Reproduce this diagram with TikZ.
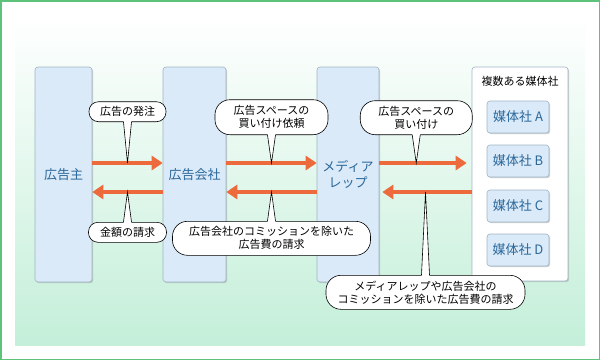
\documentclass[tikz,border=0pt]{standalone}
\usepackage{fontspec}
\setmainfont{Noto Sans CJK JP}
\usetikzlibrary{arrows.meta, calc, positioning, shadows}
\definecolor{colfill}{HTML}{DAEAF8}
\definecolor{colline}{HTML}{9FB4C4}
\definecolor{coltext}{HTML}{2A679A}
\definecolor{flowcol}{HTML}{EC6A3C}
\definecolor{mint}{HTML}{C4EFD9}
\definecolor{framecol}{HTML}{5DC37B}
\newcommand{\calltail}[3]{%
\fill[white] ([xshift=-4pt,yshift=#3]#1) -- (#2) -- ([xshift=4pt,yshift=#3]#1) -- cycle;
\draw[line width=0.6pt] ([xshift=-4pt]#1) -- (#2) -- ([xshift=4pt]#1);}

\begin{document}
\begin{tikzpicture}[x=1pt, y=-1pt,
  col/.style={draw=colline, fill=colfill, rounded corners=3pt, line width=0.6pt,
    text=coltext, font=\fontsize{13}{16}\selectfont, align=center,
    drop shadow={shadow xshift=1.2pt, shadow yshift=-1.2pt, opacity=0.35}},
  sub/.style={col, minimum width=62pt, minimum height=32pt, inner sep=0pt},
  flow/.style={draw=flowcol, line width=4pt, -{Triangle[length=11pt, width=14pt]}},
  callout/.style={draw, fill=white, line width=0.6pt, align=center, inner sep=0pt,
    font=\fontsize{11}{13}\selectfont},
  oneline/.style={callout, minimum height=20pt, rounded corners=9.5pt},
  twoline/.style={callout, minimum height=34pt, rounded corners=15pt}]
\useasboundingbox (0,0) rectangle (600,360);
\fill[white] (0,0) rectangle (600,360);
\draw[framecol, line width=1.5pt] (0.75,0.75) rectangle (599.25,359.25);
\shade[top color=white, middle color=white!60!mint, bottom color=mint] (15,15) rectangle (585,345);

\node[col, minimum width=57pt, minimum height=215pt] (adv) at (63.5,174.5) {広告主};
\node[col, minimum width=63pt, minimum height=215pt] (agency) at (194.5,174.5) {広告会社};
\node[col, minimum width=62pt, minimum height=215pt] (rep) at (348,174.5) {メディア\\レップ};
\node[col, fill=white, minimum width=96pt, minimum height=214pt] (media) at (520,174) {};
\node[below=6pt of media.north, font=\fontsize{11}{13}\selectfont] (mtitle) {複数ある媒体社};
\foreach \c/\y in {A/117, B/161, C/206, D/250}
  \node[sub] (m\c) at (518,\y) {媒体社 \c};

\draw[flow] ([yshift=11.5pt]adv.east) -- coordinate (f1) ([yshift=11.5pt]agency.west);
\draw[flow] ([yshift=11.5pt]agency.east) -- coordinate (f2) ([yshift=11.5pt]rep.west);
\draw[flow, shorten >=5pt] ([yshift=11.5pt]rep.east) -- coordinate[pos=0.4] (f3) ([yshift=11pt]media.west);
\draw[flow] ([yshift=-17.5pt]agency.west) -- coordinate (b1) ([yshift=-17.5pt]adv.east);
\draw[flow] ([yshift=-17.5pt]rep.west) -- coordinate (b2) ([yshift=-17.5pt]agency.east);
\draw[flow, shorten >=3pt] ([yshift=-18pt]media.west) -- coordinate (b3) ([yshift=-17.5pt]rep.east);

\node[oneline, minimum width=77pt, above=41pt of f1] (c1) {広告の発注};
\calltail{c1.south}{f1}{1pt}
\node[twoline, minimum width=113pt, minimum height=35pt, above=28pt of f2] (c2) {広告スペースの\\買い付け依頼};
\calltail{c2.south}{f2}{1pt}
\node[twoline, minimum width=112pt, above=28pt of f3] (c3) {広告スペースの\\買い付け};
\calltail{c3.south}{f3}{1pt}
\node[oneline, minimum width=78pt, below=30pt of b1] (c4) {金額の請求};
\calltail{c4.north}{b1}{-1pt}
\node[twoline, minimum width=198pt, below=29pt of b2] (c5) {広告会社のコミッションを除いた\\広告費の請求};
\calltail{c5.north}{b2}{-1pt}
\node[twoline, minimum width=199pt, below=83pt of b3] (c6) {メディアレップや広告会社の\\コミッションを除いた広告費の請求};
\calltail{c6.north}{b3}{-1pt}
\end{tikzpicture}
\end{document}
